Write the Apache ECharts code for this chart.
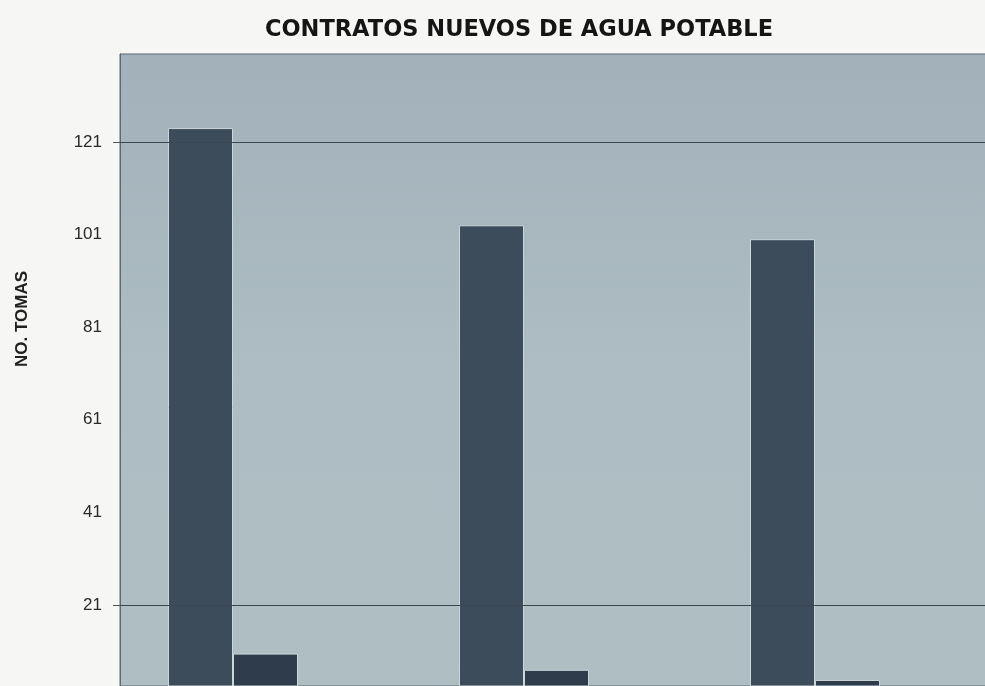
<!DOCTYPE html>
<html>
<head>
<meta charset="utf-8">
<script src="https://cdn.jsdelivr.net/npm/echarts@6/dist/echarts.min.js"></script>
<style>
  html, body { margin: 0; padding: 0; background: #f6f6f4; }
  #main { width: 985px; height: 686px; }
</style>
</head>
<body>
<div id="main"></div>
<script>
var categories = ['Periodo 1', 'Periodo 2', 'Periodo 3'];
var serie1 = [124, 103, 100];
var serie2 = [10.5, 7, 4.8];
var serie3 = [0, 0, 0];
var tickValues = [21, 41, 61, 81, 101, 121];
var lineValues = [21, 121];

var myChart = echarts.init(document.getElementById('main'));

var option = {
  backgroundColor: '#f6f6f4',
  animation: false,
  title: {
    text: 'CONTRATOS NUEVOS DE AGUA POTABLE',
    left: 514,
    textAlign: 'center',
    top: 14,
    textStyle: { fontFamily: 'DejaVu Sans', fontSize: 22.5, fontWeight: 'bold', color: '#151515' }
  },
  grid: {
    left: 120,
    right: -8,
    top: 54,
    bottom: 0,
    outerBoundsMode: 'none',
    show: true,
    borderColor: '#5c6872',
    borderWidth: 1,
    backgroundColor: {
      type: 'linear', x: 0, y: 0, x2: 0, y2: 1,
      colorStops: [
        { offset: 0, color: '#a3b1ba' },
        { offset: 0.5, color: '#adbdc3' },
        { offset: 1, color: '#afbec3' }
      ]
    }
  },
  xAxis: {
    type: 'category',
    data: categories,
    axisLine: { show: false },
    axisTick: { show: false },
    axisLabel: { show: false }
  },
  yAxis: {
    type: 'value',
    min: 3.5,
    max: 140,
    name: 'NO. TOMAS',
    nameLocation: 'middle',
    nameRotate: 90,
    nameGap: 89,
    nameTextStyle: {
      fontFamily: 'Liberation Sans', fontSize: 17, fontWeight: 'bold', color: '#222',
      padding: [0, 0, 0, 102]
    },
    axisLine: { show: true, lineStyle: { color: '#5c6872', width: 1 } },
    axisTick: { show: true, length: 7, customValues: lineValues, lineStyle: { color: '#4a5660' } },
    axisLabel: {
      customValues: tickValues,
      margin: 18,
      fontFamily: 'Liberation Sans',
      fontSize: 17,
      color: '#2a2a2a'
    },
    splitLine: { show: false }
  },
  series: [
    {
      name: 'Serie 1',
      type: 'bar',
      data: serie1,
      barWidth: 65,
      barGap: '0%',
      itemStyle: { color: '#3d4c5a', borderColor: '#cdd6da', borderWidth: 1 },
      markLine: {
        silent: true,
        symbol: 'none',
        label: { show: false },
        lineStyle: { color: '#3b4650', width: 1, type: 'solid' },
        data: lineValues.map(function (v) { return { yAxis: v }; })
      },
      z: 3
    },
    {
      name: 'Serie 2',
      type: 'bar',
      data: serie2,
      barWidth: 65,
      barGap: '0%',
      itemStyle: { color: '#2f3c4b', borderColor: '#cdd6da', borderWidth: 1 },
      z: 3
    },
    {
      name: 'Serie 3',
      type: 'bar',
      data: serie3,
      barWidth: 65,
      barGap: '0%',
      itemStyle: { color: '#6d7c88' }
    }
  ]
};

myChart.setOption(option);
</script>
</body>
</html>
